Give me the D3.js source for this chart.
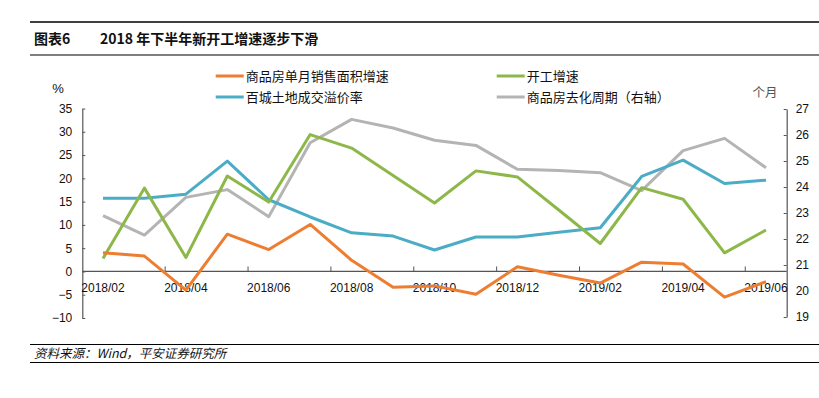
<!DOCTYPE html>
<html><head><meta charset="utf-8">
<script src="https://cdn.jsdelivr.net/npm/d3@7"></script>
<style>body{margin:0;background:#fff;} svg{display:block}</style>
</head><body><svg id="c" width="819" height="398"></svg>
<script>
const categories = ["2018/02","2018/03","2018/04","2018/05","2018/06","2018/07","2018/08","2018/09","2018/10","2018/11","2018/12","2019/01","2019/02","2019/03","2019/04","2019/05","2019/06"];
const salesGrowth  = [4.0, 3.3, -4.0, 8.0, 4.7, 10.1, 2.4, -3.4, -3.1, -4.9, 1.0, -0.8, -2.5, 2.0, 1.6, -5.5, -2.2];
const startsGrowth = [2.8, 17.9, 3.0, 20.5, 14.9, 29.4, 26.5, 20.6, 14.7, 21.6, 20.3, 13.2, 6.0, 18.0, 15.5, 4.0, 8.9];
const landPremium  = [15.7, 15.7, 16.6, 23.7, 15.4, 11.7, 8.3, 7.6, 4.6, 7.4, 7.4, 8.4, 9.4, 20.4, 23.9, 18.9, 19.6];
const destockCycle = [22.9, 22.15, 23.6, 23.9, 22.86, 25.7, 26.6, 26.27, 25.8, 25.6, 24.68, 24.63, 24.55, 23.86, 25.4, 25.87, 24.74];
const leftTicks  = [-10,-5,0,5,10,15,20,25,30,35];
const rightTicks = [19,20,21,22,23,24,25,26,27];
const xTickLabels = categories.filter((d,i)=>i%2===0);
const seriesNames = ["商品房单月销售面积增速","开工增速","百城土地成交溢价率","商品房去化周期（右轴）"];
const seriesColors = ["#ED7D31","#8DB849","#4BACC6","#B4B4B4"];

const svg = d3.select("#c");
const cjk = "'Noto Sans CJK SC','Liberation Sans',sans-serif";
const num = "'Liberation Sans',Arial,sans-serif";

const x = d3.scaleBand().domain(categories).range([82.3, 786.7]).paddingInner(0).paddingOuter(0);
const yL = d3.scaleLinear().domain([-10,35]).range([318,108.5]);
const yR = d3.scaleLinear().domain([19,27]).range([317,109]);
const cx = d => x(d) + x.bandwidth()/2;

// header
svg.append("line").attr("x1",30).attr("x2",819).attr("y1",22).attr("y2",22).attr("stroke","#000").attr("stroke-width",1.5);
svg.append("line").attr("x1",30).attr("x2",819).attr("y1",55).attr("y2",55).attr("stroke","#000").attr("stroke-width",1.2);
svg.append("text").attr("x",34).attr("y",44).attr("font-family",cjk).attr("font-weight","bold").attr("font-size",14).attr("fill","#111").text("图表6");
svg.append("text").attr("x",100).attr("y",44).attr("font-family",cjk).attr("font-weight","bold").attr("font-size",14).attr("fill","#111").text("2018 年下半年新开工增速逐步下滑");

// footer
svg.append("line").attr("x1",30).attr("x2",819).attr("y1",344.5).attr("y2",344.5).attr("stroke","#000").attr("stroke-width",1.2);
svg.append("line").attr("x1",30).attr("x2",819).attr("y1",362.5).attr("y2",362.5).attr("stroke","#000").attr("stroke-width",1.2);
svg.append("text").attr("x",34).attr("y",358).attr("font-family",cjk).attr("font-style","italic").attr("font-size",12.5).attr("fill","#111").text("资料来源：Wind，平安证券研究所");

// axes
const axisColor = "#555";
const gL = svg.append("g").attr("transform","translate(82.3,0)")
  .call(d3.axisLeft(yL).tickValues(leftTicks).tickSize(-3).tickSizeOuter(0).tickPadding(10));
const gR = svg.append("g").attr("transform","translate(786.7,0)")
  .call(d3.axisRight(yR).tickValues(rightTicks).tickSize(-3).tickSizeOuter(0).tickPadding(9));
[gL,gR].forEach(g=>{
  g.select(".domain").attr("stroke",axisColor).attr("stroke-width",1.2);
  g.selectAll(".tick line").attr("stroke",axisColor);
  g.selectAll(".tick text").attr("font-family",num).attr("font-size",12).attr("fill","#111");
});

// x axis at zero
const y0 = yL(0);
svg.append("line").attr("x1",82.3).attr("x2",786.7).attr("y1",y0).attr("y2",y0).attr("stroke",axisColor).attr("stroke-width",1.2);
categories.forEach((c,i)=>{
  if(i>0 && i%2===0){
    svg.append("line").attr("x1",x(c)).attr("x2",x(c)).attr("y1",y0).attr("y2",y0-5).attr("stroke",axisColor);
  }
});
svg.selectAll(".xl").data(xTickLabels).enter().append("text")
  .attr("x",d=>cx(d)).attr("y",292).attr("text-anchor","middle")
  .attr("font-family",num).attr("font-size",12).attr("fill","#111").text(d=>d);

// series
const lineL = d3.line().x((d,i)=>cx(categories[i])).y(d=>yL(d));
const lineR = d3.line().x((d,i)=>cx(categories[i])).y(d=>yR(d));
const drawn = [
  [destockCycle, lineR, 3],
  [landPremium, lineL, 2],
  [startsGrowth, lineL, 1],
  [salesGrowth, lineL, 0]
];
drawn.forEach(([data,gen,ci])=>{
  svg.append("path").attr("d",gen(data)).attr("fill","none")
    .attr("stroke",seriesColors[ci]).attr("stroke-width",3).attr("stroke-linejoin","round");
});

// axis titles
svg.append("text").attr("x",58).attr("y",93).attr("text-anchor","middle").attr("font-family",num).attr("font-size",13).attr("fill","#111").text("%");
svg.append("text").attr("x",765).attr("y",97).attr("text-anchor","middle").attr("font-family",cjk).attr("font-size",12.5).attr("fill","#555").text("个月");

// legend
const legendPos = [[215.7,76],[496.7,76],[215.7,97],[496.7,97]];
seriesNames.forEach((n,i)=>{
  const [lx,ly] = legendPos[i];
  svg.append("line").attr("x1",lx).attr("x2",lx+28).attr("y1",ly).attr("y2",ly).attr("stroke",seriesColors[i]).attr("stroke-width",3);
  svg.append("text").attr("x",lx+30).attr("y",ly+4.5).attr("font-family",cjk).attr("font-size",13).attr("fill","#111").text(n);
});
</script></body></html>
